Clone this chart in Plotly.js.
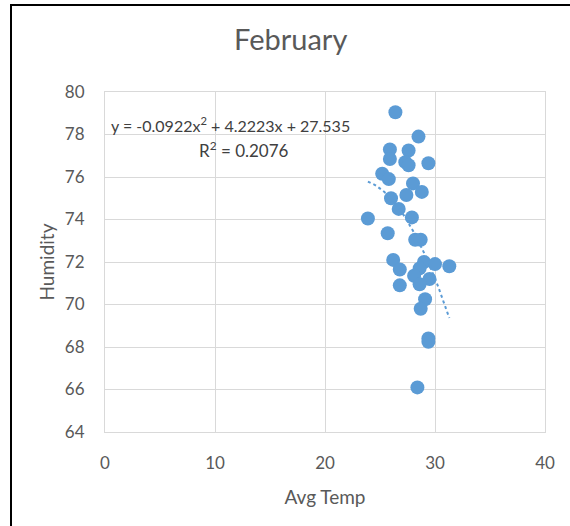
<!DOCTYPE html>
<html>
<head>
<meta charset="utf-8">
<script src="https://cdn.plot.ly/plotly-3.0.1.min.js"></script>
<style>
  html, body { margin: 0; padding: 0; background: #fff; }
  #wrap { position: relative; width: 570px; height: 526px; }
  #chart { width: 570px; height: 526px; }
  #frame { position: absolute; left: 10px; top: 4px; width: 560px; height: 522px;
           border-left: 2px solid #000; border-top: 2px solid #000; box-sizing: border-box;
           pointer-events: none; }
</style>
</head>
<body>
<div id="wrap">
  <div id="chart"></div>
  <div id="frame"></div>
</div>
<script>
// Avg Temp (x) and Humidity (y) readings for February
const avgTemp = [26.4, 28.5, 25.9, 27.6, 25.9, 27.3, 27.6, 29.4, 25.2, 25.8,
                 28.0, 27.4, 28.8, 26.0, 26.7, 23.9, 27.9, 25.7, 28.2, 28.7,
                 26.2, 26.8, 29.0, 30.0, 31.3, 28.6, 28.1, 29.5, 28.6, 26.8,
                 29.1, 28.7, 29.4, 29.4, 28.4];
const humidity = [79.05, 77.9, 77.3, 77.25, 76.85, 76.7, 76.55, 76.65, 76.15, 75.9,
                  75.7, 75.15, 75.3, 75.0, 74.5, 74.05, 74.1, 73.35, 73.05, 73.05,
                  72.1, 71.65, 72.0, 71.9, 71.8, 71.7, 71.35, 71.2, 70.95, 70.9,
                  70.25, 69.8, 68.4, 68.25, 66.1];
// Polynomial trendline coefficients shown on the chart: a*x^2 + b*x + c
const trendCoef = [-0.0922, 4.2223, 27.535];
const xTicks = [0, 10, 20, 30, 40];
const yTicks = [64, 66, 68, 70, 72, 74, 76, 78, 80];

const xMin = Math.min(...avgTemp), xMax = Math.max(...avgTemp);
const trendX = [], trendY = [];
for (let i = 0; i <= 60; i++) {
  const x = xMin + (xMax - xMin) * i / 60;
  trendX.push(x);
  trendY.push(trendCoef[0] * x * x + trendCoef[1] * x + trendCoef[2]);
}

const font = "Lato, 'Open Sans', sans-serif";
const grey = '#595959';

const data = [
  { x: avgTemp, y: humidity, type: 'scatter', mode: 'markers',
    marker: { color: '#5B9BD5', size: 14, line: { width: 0 } }, hoverinfo: 'x+y' },
  { x: trendX, y: trendY, type: 'scatter', mode: 'lines',
    line: { color: '#5B9BD5', width: 2, dash: 'dot' }, hoverinfo: 'skip' }
];

const layout = {
  width: 570, height: 526,
  margin: { l: 105, r: 25, t: 92, b: 94, pad: 0 },
  paper_bgcolor: '#fff', plot_bgcolor: '#fff',
  showlegend: false,
  font: { family: font, color: grey, size: 17 },
  title: { text: 'February', x: 0.51, xanchor: 'center', y: 0.925, yanchor: 'middle',
           font: { family: font, size: 29, color: grey } },
  xaxis: {
    range: [0, 40], tickvals: xTicks, ticktext: xTicks.map(String),
    showgrid: true, gridcolor: '#d9d9d9', gridwidth: 1,
    showline: true, linecolor: '#d9d9d9', linewidth: 1, mirror: true,
    zeroline: false, ticks: 'outside', ticklen: 16, tickcolor: 'rgba(0,0,0,0)',
    tickfont: { family: font, size: 17, color: grey },
    title: { text: 'Avg Temp', font: { family: font, size: 19, color: grey }, standoff: 18 }
  },
  yaxis: {
    range: [64, 80], tickvals: yTicks, ticktext: yTicks.map(String),
    showgrid: true, gridcolor: '#d9d9d9', gridwidth: 1,
    showline: true, linecolor: '#d9d9d9', linewidth: 1, mirror: true,
    zeroline: false, ticks: 'outside', ticklen: 16, tickcolor: 'rgba(0,0,0,0)',
    tickfont: { family: font, size: 17, color: grey },
    title: { text: 'Humidity', font: { family: font, size: 19, color: grey }, standoff: 5 }
  },
  annotations: [
    { xref: 'paper', yref: 'paper', x: 0.008, y: 0.905, xanchor: 'left', yanchor: 'middle',
      text: 'y = -0.0922x<sup>2</sup> + 4.2223x + 27.535', showarrow: false,
      font: { family: font, size: 16, color: '#404040' } },
    { xref: 'paper', yref: 'paper', x: 0.316, y: 0.83, xanchor: 'center', yanchor: 'middle',
      text: 'R<sup>2</sup> = 0.2076', showarrow: false,
      font: { family: font, size: 17, color: '#404040' } }
  ]
};

Plotly.newPlot('chart', data, layout, { displayModeBar: false, staticPlot: true });
</script>
</body>
</html>
